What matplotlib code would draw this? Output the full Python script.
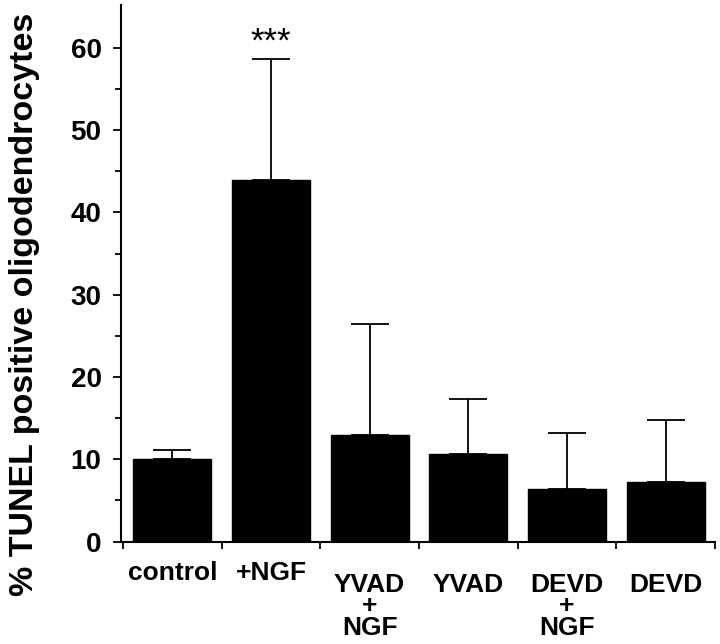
import matplotlib.pyplot as plt
import numpy as np

# values
categories = ["control", "+NGF", "YVAD\n+\nNGF", "YVAD", "DEVD\n+\nNGF", "DEVD"]
means = [10.0, 44.0, 13.0, 10.7, 6.4, 7.3]
errors = [1.1, 14.7, 13.4, 6.6, 6.8, 7.5]
significance = ["", "***", "", "", "", ""]

FONT = ["Liberation Sans", "DejaVu Sans"]
# label drop below the axis (data units); the first two sit a little higher
label_drop = [2.3, 2.3, 3.8, 3.8, 3.8, 3.8]

fig = plt.figure(figsize=(7.2, 6.44), dpi=100)
ax = fig.add_axes([0.168, 0.159, 0.825, 0.833])

x = np.arange(len(categories))
ax.bar(x, means, width=0.79, color="black", edgecolor="black", zorder=2)
ax.errorbar(x, means, yerr=[np.zeros(len(errors)), errors], fmt="none",
            ecolor="black", elinewidth=1.3, capsize=14, capthick=1.3, zorder=1)

for xi, m, e, s in zip(x, means, errors, significance):
    if s:
        ax.text(xi, m + e, s, ha="center", va="bottom", fontsize=25, family=FONT)

ax.set_xlim(-0.52, 5.5)
ax.set_ylim(0, 65.2)

ax.spines["top"].set_visible(False)
ax.spines["right"].set_visible(False)
ax.spines["left"].set_linewidth(1.5)
ax.spines["bottom"].set_linewidth(1.5)

ax.set_yticks(np.arange(0, 61, 10))
ax.set_yticks(np.arange(5, 61, 10), minor=True)
ax.tick_params(axis="y", which="major", length=6, width=1.3, pad=8)
ax.tick_params(axis="y", which="minor", length=4, width=1.3)
for lab in ax.get_yticklabels():
    lab.set_family(FONT)
    lab.set_fontsize(20)
    lab.set_fontweight("bold")

# category ticks sit between bars
ax.set_xticks(np.arange(-0.5, len(categories)))
ax.set_xticklabels([])
ax.tick_params(axis="x", which="major", length=5, width=1.3, direction="out")
for xi, cat, d in zip(x, categories, label_drop):
    ax.text(xi, -d, cat, ha="center", va="top", fontsize=19, fontweight="bold",
            family=FONT, linespacing=0.87)

ax.set_ylabel("% TUNEL positive oligodendrocytes", fontsize=24.5, fontweight="bold",
              family=FONT, va="baseline")
ax.yaxis.set_label_coords(-0.148, 0.443)

fig.savefig("out.png", dpi=100)
